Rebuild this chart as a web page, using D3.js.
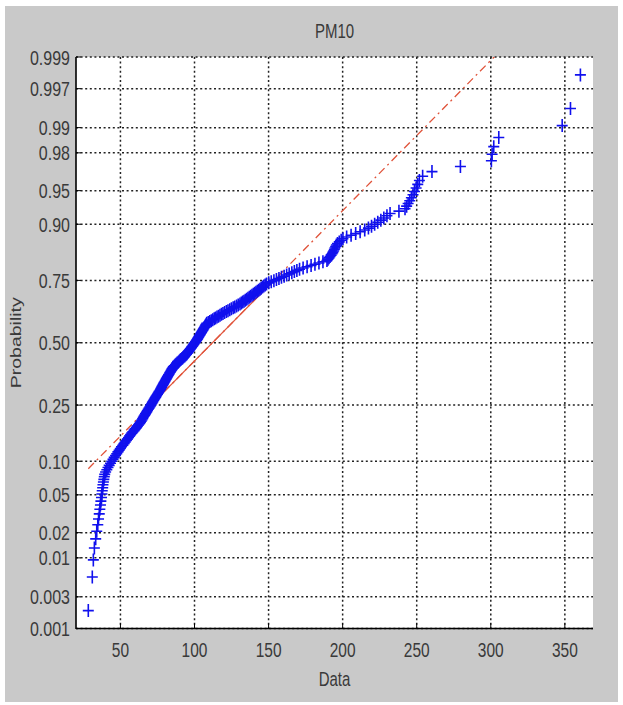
<!DOCTYPE html>
<html><head><meta charset="utf-8">
<script src="https://cdn.jsdelivr.net/npm/d3@7"></script>
<style>html,body{margin:0;padding:0;background:#fff;}svg{display:block;}</style>
</head><body>
<svg id="chart" width="623" height="705"></svg>
<script>
const title = "PM10";
const xLabel = "Data";
const yLabel = "Probability";
const xTicks = [50, 100, 150, 200, 250, 300, 350];
const probTicks = [0.001, 0.003, 0.01, 0.02, 0.05, 0.10, 0.25, 0.50, 0.75, 0.90, 0.95, 0.98, 0.99, 0.997, 0.999];
const probTickLabels = ["0.001","0.003","0.01","0.02","0.05","0.10","0.25","0.50","0.75","0.90","0.95","0.98","0.99","0.997","0.999"];
const xDomain = [20, 369];
const pm10 = [
28.3,31.0,31.7,32.4,33.3,34.0,34.7,35.2,35.7,36.1,
36.5,36.8,37.2,37.5,37.7,38.0,38.2,38.5,38.8,39.1,
39.4,40.0,40.8,41.6,42.4,43.3,44.1,45.0,45.8,46.7,
47.5,48.3,49.1,49.9,50.7,51.6,52.4,53.2,54.0,54.7,
55.5,56.2,56.9,57.7,58.4,59.2,59.9,60.7,61.4,62.2,
62.9,63.5,64.0,64.5,65.0,65.4,65.9,66.4,66.9,67.4,
67.8,68.3,68.8,69.3,69.8,70.2,70.6,71.1,71.5,71.9,
72.4,72.8,73.2,73.7,74.1,74.5,75.0,75.4,75.8,76.2,
76.7,77.1,77.4,77.8,78.1,78.5,78.9,79.2,79.6,80.0,
80.3,80.7,81.0,81.4,81.8,82.1,82.5,82.9,83.2,83.6,
84.0,84.3,84.7,85.0,85.4,85.8,86.5,87.1,87.7,88.3,
89.0,89.6,90.2,90.8,91.5,92.1,92.7,93.4,94.0,94.6,
95.1,95.5,96.0,96.4,96.8,97.2,97.7,98.1,98.5,99.0,
99.4,99.8,100.2,100.7,101.1,101.5,101.9,102.2,102.6,102.9,
103.3,103.7,104.0,104.4,104.7,105.1,105.5,105.8,106.2,106.5,
106.9,107.2,107.6,107.9,108.3,109.3,110.3,111.3,112.3,113.3,
114.2,115.2,116.2,117.2,118.2,119.2,120.3,121.5,122.6,123.8,
124.9,126.1,127.2,128.4,129.5,130.7,131.6,132.5,133.4,134.3,
135.2,136.1,137.0,137.9,138.8,139.7,140.6,141.5,142.4,143.3,
144.2,145.0,145.9,146.8,147.7,148.6,150.1,151.8,153.6,155.3,
157.0,158.7,160.5,162.2,163.9,165.7,167.4,169.1,170.9,173.3,
176.0,178.7,181.3,184.0,186.7,189.4,190.1,190.8,191.5,192.2,
192.9,193.4,193.9,194.4,194.8,195.3,195.8,196.5,197.7,199.0,
200.2,202.7,205.7,208.8,211.8,214.9,217.4,219.5,221.6,223.7,
225.8,227.8,229.9,232.0,238.0,242.1,243.2,244.2,245.3,246.4,
247.5,248.5,249.6,250.7,251.8,254.0,260.3,279.5,300.4,300.9,
302.0,305.4,348.2,353.8,360.5
];

// inverse standard normal CDF (Acklam)
function probit(p) {
  const a=[-3.969683028665376e+01,2.209460984245205e+02,-2.759285104469687e+02,1.383577518672690e+02,-3.066479806614716e+01,2.506628277459239e+00];
  const b=[-5.447609879822406e+01,1.615858368580409e+02,-1.556989798598866e+02,6.680131188771972e+01,-1.328068155288572e+01];
  const c=[-7.784894002430293e-03,-3.223964580411365e-01,-2.400758277161838e+00,-2.549732539343734e+00,4.374664141464968e+00,2.938163982698783e+00];
  const d=[7.784695709041462e-03,3.224671290700398e-01,2.445134137142996e+00,3.754408661907416e+00];
  const pl=0.02425, ph=1-pl;
  let q,r;
  if(p<pl){q=Math.sqrt(-2*Math.log(p));return (((((c[0]*q+c[1])*q+c[2])*q+c[3])*q+c[4])*q+c[5])/((((d[0]*q+d[1])*q+d[2])*q+d[3])*q+1);}
  if(p<=ph){q=p-0.5;r=q*q;return (((((a[0]*r+a[1])*r+a[2])*r+a[3])*r+a[4])*r+a[5])*q/(((((b[0]*r+b[1])*r+b[2])*r+b[3])*r+b[4])*r+1);}
  q=Math.sqrt(-2*Math.log(1-p));return -(((((c[0]*q+c[1])*q+c[2])*q+c[3])*q+c[4])*q+c[5])/((((d[0]*q+d[1])*q+d[2])*q+d[3])*q+1);
}

const svg = d3.select("#chart");
const L = 76, R = 593, T = 57, B = 628.5;
const SY = 1.3; // vertical text stretch of the original picture

svg.append("rect").attr("x",5).attr("y",6).attr("width",613).attr("height",696).attr("fill","#c9c9c9");
svg.append("rect").attr("x",L).attr("y",T).attr("width",R-L).attr("height",B-T).attr("fill","#fff");

const x = d3.scaleLinear().domain(xDomain).range([L, R]);
const zMax = probit(probTicks[probTicks.length-1]);
const z = d3.scaleLinear().domain([-zMax, zMax]).range([B, T]);
const yP = p => z(probit(p));

svg.append("clipPath").attr("id","clip").append("rect").attr("x",L).attr("y",T).attr("width",R-L).attr("height",B-T);

// grid
const grid = svg.append("g").attr("stroke","#222").attr("stroke-width",1.5).attr("stroke-dasharray","2,2.6");
grid.selectAll(".gx").data(xTicks).join("line")
  .attr("x1",d=>x(d)).attr("x2",d=>x(d)).attr("y1",T).attr("y2",B);
grid.selectAll(".gy").data(probTicks).join("line")
  .attr("x1",L).attr("x2",R).attr("y1",d=>yP(d)).attr("y2",d=>yP(d));

// reference line through quartiles
const n = pm10.length;
const q1 = d3.quantile(pm10, 0.25), q3 = d3.quantile(pm10, 0.75);
const zq1 = probit(0.25), zq3 = probit(0.75);
const slope = (zq3 - zq1) / (q3 - q1);
const zAt = v => zq1 + (v - q1) * slope;
const mn = d3.min(pm10), mx = d3.max(pm10);
const refG = svg.append("g").attr("clip-path","url(#clip)");
refG.append("line").attr("x1",x(mn)).attr("y1",z(zAt(mn))).attr("x2",x(mx)).attr("y2",z(zAt(mx)))
  .attr("stroke","#e0533a").attr("stroke-width",1.3).attr("stroke-dasharray","8,4,2,4");
refG.append("line").attr("x1",x(q1)).attr("y1",z(zq1)).attr("x2",x(q3)).attr("y2",z(zq3))
  .attr("stroke","#e0533a").attr("stroke-width",1.3);

// points
const pts = pm10.map((v,i)=>({v, p:(i+0.5)/n}));
svg.append("g").attr("stroke","#1010ee").attr("stroke-width",1.6).attr("fill","none")
  .selectAll("path").data(pts).join("path")
  .attr("d",d=>`M${x(d.v)-5.5},${yP(d.p)}h11M${x(d.v)},${yP(d.p)-6.5}v13`);

// axes lines
svg.append("line").attr("x1",L).attr("x2",L).attr("y1",T).attr("y2",B+0.5).attr("stroke","#000").attr("stroke-width",1.6);
svg.append("line").attr("x1",L).attr("x2",R).attr("y1",B).attr("y2",B).attr("stroke","#000").attr("stroke-width",1.6);
svg.append("g").attr("stroke","#000").selectAll("line").data(xTicks).join("line")
  .attr("x1",d=>x(d)).attr("x2",d=>x(d)).attr("y1",B).attr("y2",B-5);
svg.append("g").attr("stroke","#000").selectAll("line").data(probTicks).join("line")
  .attr("x1",L).attr("x2",L+5).attr("y1",d=>yP(d)).attr("y2",d=>yP(d));

const font = "'Liberation Sans', Arial, sans-serif";
function txt(xp, yp, s, anchor, size, rot) {
  svg.append("text").attr("transform",`translate(${xp},${yp}) scale(1,${SY})` + (rot?" rotate(-90)":""))
    .attr("text-anchor",anchor).attr("font-family",font).attr("font-size",size).attr("fill","#3a3a3a").text(s);
}
probTicks.forEach((p,i)=>txt(70, yP(p)+7.5, probTickLabels[i], "end", 16));
xTicks.forEach(t=>txt(x(t), 657, String(t), "middle", 15.5));
txt((L+R)/2, 38, title, "middle", 15);
txt((L+R)/2, 686, xLabel, "middle", 15);
txt(21, (T+B)/2, yLabel, "middle", 15, true);
</script>
</body></html>
